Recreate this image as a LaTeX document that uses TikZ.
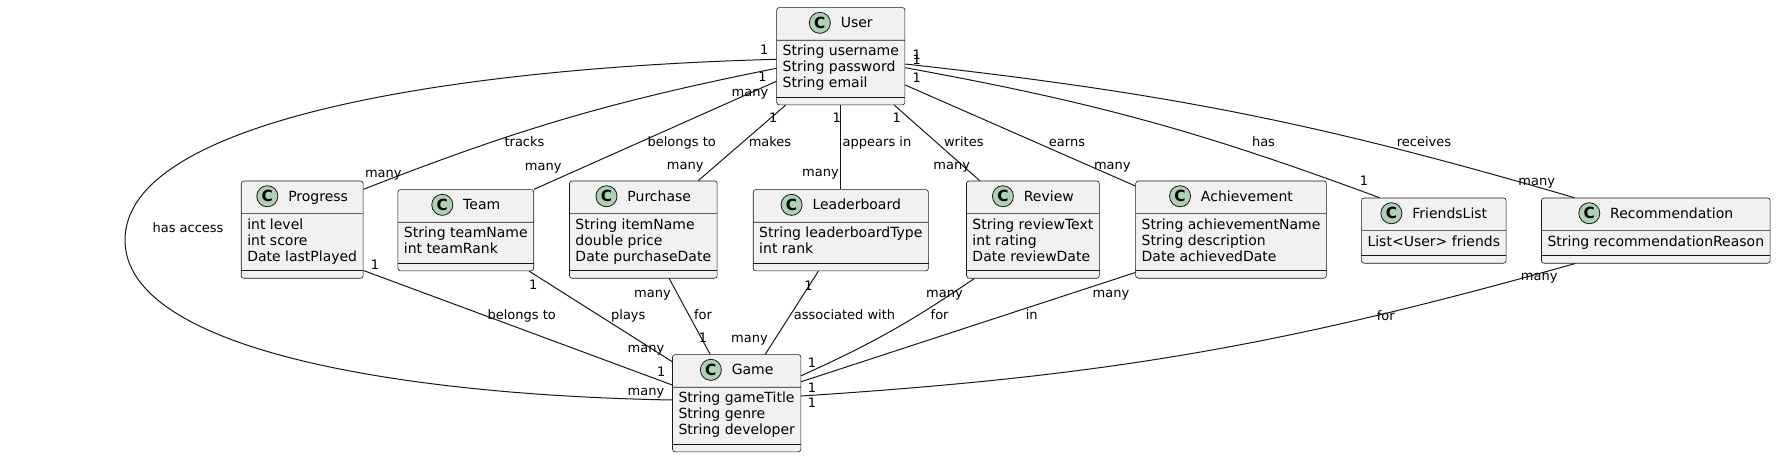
\documentclass[tikz,border=0pt]{standalone}
\usepackage{fontspec}
\setmainfont{DejaVu Sans}
\usetikzlibrary{positioning,shapes.multipart,calc}
\definecolor{classbg}{HTML}{F1F1F1}
\definecolor{classline}{HTML}{181818}
\definecolor{badgebg}{HTML}{ADD1B2}

\newcommand{\cbadge}{\tikz[baseline=-3.8pt]{\filldraw[fill=badgebg,draw=classline,line width=0.6pt] (0,0) circle[radius=7.9pt];
  \node[shape=rectangle,anchor=center,inner sep=0pt,draw=none,fill=none,font=\fontsize{11.5}{12}\selectfont\bfseries] at (0,0) {C};}}
\newcommand{\classhead}[1]{\rule[-6pt]{0pt}{18pt}\cbadge\hspace{7.5pt}#1}
% last attribute line also holds the empty methods compartment
\newcommand{\lastattr}{\rule[-9.6pt]{0pt}{0pt}}

\tikzset{
  umlclass/.style={rectangle split, rectangle split parts=2,
    rectangle split part align={center,left},
    draw=classline, line width=0.45pt, fill=classbg, rounded corners=1.9pt,
    anchor=north, inner xsep=4.5pt, inner ysep=3pt, align=left,
    font=\fontsize{10.5}{12}\selectfont},
  assoc/.style={draw=classline, line width=0.75pt},
  lbl/.style={font=\fontsize{9.75}{11}\selectfont, inner sep=0pt, text height=7pt, text depth=2pt}
}

\begin{document}
\begin{tikzpicture}[x=0.75pt,y=-0.75pt]
  \path[use as bounding box, fill=white] (0,0) rectangle (1776,457);

  % classes
  \node[umlclass] (User) at (840.8,7.3)
    {\classhead{User}\nodepart{two}\strut String username\\\strut String password\\\strut String email\lastattr};
  \node[umlclass] (Progress) at (302.2,180.7)
    {\classhead{Progress}\nodepart{two}\strut int level\\\strut int score\\\strut Date lastPlayed\lastattr};
  \node[umlclass] (Team) at (465.8,189.3)
    {\classhead{Team}\nodepart{two}\strut String teamName\\\strut int teamRank\lastattr};
  \node[umlclass] (Purchase) at (643.3,180.7)
    {\classhead{Purchase}\nodepart{two}\strut String itemName\\\strut double price\\\strut Date purchaseDate\lastattr};
  \node[umlclass] (Leaderboard) at (840.8,189.3)
    {\classhead{Leaderboard}\nodepart{two}\strut String leaderboardType\\\strut int rank\lastattr};
  \node[umlclass] (Review) at (1032.9,180.7)
    {\classhead{Review}\nodepart{two}\strut String reviewText\\\strut int rating\\\strut Date reviewDate\lastattr};
  \node[umlclass] (Achievement) at (1231,180.7)
    {\classhead{Achievement}\nodepart{two}\strut String achievementName\\\strut String description\\\strut Date achievedDate\lastattr};
  \node[umlclass] (FriendsList) at (1433.8,197.7)
    {\classhead{FriendsList}\nodepart{two}\strut List<User> friends\lastattr};
  \node[umlclass] (Recommendation) at (1655.8,197.7)
    {\classhead{Recommendation}\nodepart{two}\strut String recommendationReason\lastattr};
  \node[umlclass] (Game) at (736.7,354.3)
    {\classhead{Game}\nodepart{two}\strut String gameTitle\\\strut String genre\\\strut String developer\lastattr};

  % empty methods compartments
  \foreach \c in {User,Progress,Team,Purchase,Leaderboard,Review,Achievement,FriendsList,Recommendation,Game}
    \draw[classline, line width=0.45pt] ([yshift=6pt]\c.south west) -- ([yshift=6pt]\c.south east);

  % associations from User
  \draw[assoc] ($(User.north west)+(0,52)$) .. controls (450,68) and (125,120) .. (125,240)
    .. controls (125,350) and (400,395) .. ($(Game.north west)+(0,45.7)$);
  \draw[assoc] ($(User.north west)+(0,61)$) to[bend right=5] ($(Progress.north east)+(0,8.6)$);
  \draw[assoc] ($(User.north west)+(0,74)$) -- (Team.north east);
  \draw[assoc] ($(User.south west)+(9.3,0)$) -- ($(Purchase.north west)+(129,0)$);
  \draw[assoc] (User.south) -- (Leaderboard.north);
  \draw[assoc] ($(User.south east)+(-11,0)$) -- ($(Review.north west)+(13.6,0)$);
  \draw[assoc] ($(User.north east)+(0,77.7)$) -- ($(Achievement.north west)+(0,5.3)$);
  \draw[assoc] ($(User.north east)+(0,60.4)$) to[bend left=5] ($(FriendsList.north west)+(18.3,0)$);
  \draw[assoc] ($(User.north east)+(0,56.7)$) to[bend left=5] ($(Recommendation.north west)+(33.3,0)$);

  % associations to Game
  \draw[assoc] ($(Progress.south east)+(0,-8)$) -- ($(Game.north west)+(0,30.7)$);
  \draw[assoc] ($(Team.south east)+(-5,0)$) -- ($(Game.north west)+(0,7.4)$);
  \draw[assoc] ($(Purchase.south west)+(100,0)$) -- ($(Game.north west)+(37.9,0)$);
  \draw[assoc] ($(Leaderboard.south west)+(65.5,0)$) -- ($(Game.north west)+(93,0)$);
  \draw[assoc] ($(Review.south west)+(8.1,0)$) to[bend left=5] ($(Game.north east)+(0,21.4)$);
  \draw[assoc] ($(Achievement.south west)+(0,-6)$) -- ($(Game.north east)+(0,27.4)$);
  \draw[assoc] ($(Recommendation.south west)+(34,0)$) to[bend left=6] ($(Game.north east)+(0,41.7)$);

  % association names
  \node[lbl] (lAccess) at (188,229.3) {has access};
  \node[lbl] (lTracks) at (524.5,142.7) {tracks};
  \node[lbl] (lBelongsTeam) at (681.7,142.7) {belongs to};
  \node[lbl] (lMakes) at (770,142.7) {makes};
  \node[lbl] (lAppears) at (877,142.7) {appears in};
  \node[lbl] (lWrites) at (963.8,142.7) {writes};
  \node[lbl] (lEarns) at (1067,142.7) {earns};
  \node[lbl] (lHas) at (1263.5,142.7) {has};
  \node[lbl] (lReceives) at (1424,142.7) {receives};
  \node[lbl] (lBelongsGame) at (521.7,316) {belongs to};
  \node[lbl] (lPlays) at (628.3,316) {plays};
  \node[lbl] (lForPurchase) at (703,316) {for};
  \node[lbl] (lAssociated) at (844.5,316) {associated with};
  \node[lbl] (lForReview) at (939.6,316) {for};
  \node[lbl] (lIn) at (1031.7,316) {in};
  \node[lbl] (lForRec) at (1385.8,316.7) {for};

  % multiplicities
  \node[lbl] (mUserAccess) at (764.3,50.7) {1};
  \node[lbl] (mUserTracks) at (762.5,78.5) {1};
  \node[lbl] (mUserTeam) at (750,92.7) {many};
  \node[lbl] (mUserMakes) at (773.3,119.3) {1};
  \node[lbl] (mUserBoard) at (836.7,119.3) {1};
  \node[lbl] (mUserWrites) at (896.7,119.3) {1};
  \node[lbl] (mUserEarns) at (916.7,79.3) {1};
  \node[lbl] (mUserHas) at (916.7,61) {1};
  \node[lbl] (mUserReceives) at (916.7,56) {1};
  \node[lbl] (mProgress) at (383.3,174) {many};
  \node[lbl] (mTeam) at (543.2,167.3) {many};
  \node[lbl] (mPurchase) at (685.2,166) {many};
  \node[lbl] (mBoard) at (820.5,173) {many};
  \node[lbl] (mReview) at (951.7,166) {many};
  \node[lbl] (mAchievement) at (1112.3,166) {many};
  \node[lbl] (mFriends) at (1364,181.7) {1};
  \node[lbl] (mRecommendation) at (1536.7,181.7) {many};
  \node[lbl] (mProgressGame) at (375,265.7) {1};
  \node[lbl] (mTeamGame) at (533.3,285.7) {1};
  \node[lbl] (mPurchaseGame) at (652.5,294) {many};
  \node[lbl] (mBoardGame) at (808.4,286.7) {1};
  \node[lbl] (mReviewGame) at (944.4,294) {many};
  \node[lbl] (mAchievementGame) at (1111,294) {many};
  \node[lbl] (mRecGame) at (1539.2,277.3) {many};
  \node[lbl] (mGamePurchase) at (703,339.3) {1};
  \node[lbl] (mGameBoard) at (749.5,339.3) {many};
  \node[lbl] (mGameTeam) at (646,349.3) {many};
  \node[lbl] (mGameProgress) at (661.3,372.7) {1};
  \node[lbl] (mGameAccess) at (646,391.7) {many};
  \node[lbl] (mGameReview) at (812,364) {1};
  \node[lbl] (mGameAchievement) at (812,389.3) {1};
  \node[lbl] (mGameRec) at (812,404) {1};
\end{tikzpicture}
\end{document}
